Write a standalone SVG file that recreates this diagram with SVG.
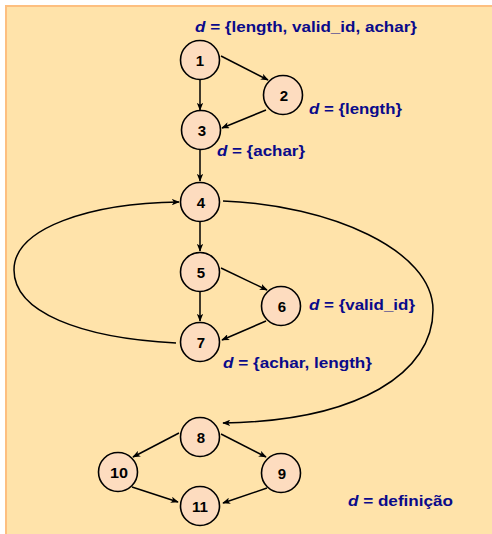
<svg xmlns="http://www.w3.org/2000/svg" width="492" height="534" viewBox="0 0 492 534">
<defs>
<style>
.n circle{fill:#FDDCBF;stroke:#000;stroke-width:1.6}
.n text{font-family:"Liberation Sans",Arial,sans-serif;font-weight:bold;font-size:15px;fill:#000;text-anchor:middle}
.e path{fill:none;stroke:#000;stroke-width:1.5;marker-end:url(#ah)}
.lbl{font-family:"Liberation Sans",Arial,sans-serif;font-weight:bold;font-size:15.5px;fill:#0A0A8A}
.lbl .d{font-style:italic}
</style>
<marker id="ah" viewBox="0 0 10 8" refX="9" refY="4" markerWidth="8" markerHeight="6.4" orient="auto" markerUnits="userSpaceOnUse">
<path d="M0,0 L10,4 L0,8 L2.5,4 z" fill="#000"/>
</marker>
</defs>
<rect x="0" y="0" width="492" height="534" fill="#FFFFFF"/>
<rect x="5" y="5" width="487" height="529" fill="#FDBF80"/>
<rect x="7" y="7" width="485" height="527" fill="#FFE3AA"/>

<g id="connectors" class="e">
<path d="M200,80 L200,110"/>
<path d="M221,56 L268,80"/>
<path d="M266,110 L222,128"/>
<path d="M200,150 L200,181"/>
<path d="M200,222 L200,251"/>
<path d="M221,268 L267,290"/>
<path d="M266,321 L222,340"/>
<path d="M200,292 L200,321"/>
<path d="M176,343 C 80,338 14,312 14,270 C 14,228 90,203 179,202"/>
<path d="M223,201 C 330,205 433,250 433,310 C 433,372 360,421 223,423"/>
<path d="M179,433 L133,457"/>
<path d="M221,434 L266,457"/>
<path d="M132,487 L178,502"/>
<path d="M267,488 L223,503"/>
</g>

<g id="n1" class="n"><circle cx="200" cy="60" r="19.5"/><text x="200" y="66">1</text></g>
<g id="n2" class="n"><circle cx="283" cy="95" r="19.5"/><text x="284" y="101">2</text></g>
<g id="n3" class="n"><circle cx="201" cy="130" r="19.5"/><text x="202" y="136">3</text></g>
<g id="n4" class="n"><circle cx="200" cy="202" r="19.5"/><text x="201" y="208">4</text></g>
<g id="n5" class="n"><circle cx="200" cy="272" r="19.5"/><text x="201" y="278">5</text></g>
<g id="n6" class="n"><circle cx="281" cy="306" r="19.5"/><text x="282" y="312">6</text></g>
<g id="n7" class="n"><circle cx="200" cy="342" r="19.5"/><text x="201" y="348">7</text></g>
<g id="n8" class="n"><circle cx="200" cy="437" r="19.5"/><text x="201" y="443">8</text></g>
<g id="n9" class="n"><circle cx="281" cy="473" r="19.5"/><text x="282" y="479">9</text></g>
<g id="n10" class="n"><circle cx="118" cy="472" r="19.5"/><text x="119" y="478" textLength="18" lengthAdjust="spacingAndGlyphs">10</text></g>
<g id="n11" class="n"><circle cx="200" cy="506" r="19.5"/><text x="200" y="512" textLength="16" lengthAdjust="spacingAndGlyphs">11</text></g>

<g id="labels">
<text class="lbl" x="195" y="32" textLength="222" lengthAdjust="spacingAndGlyphs"><tspan class="d">d</tspan> = {length, valid_id, achar}</text>
<text class="lbl" x="309" y="114" textLength="93" lengthAdjust="spacingAndGlyphs"><tspan class="d">d</tspan> = {length}</text>
<text class="lbl" x="217" y="156" textLength="88" lengthAdjust="spacingAndGlyphs"><tspan class="d">d</tspan> = {achar}</text>
<text class="lbl" x="309" y="310" textLength="106" lengthAdjust="spacingAndGlyphs"><tspan class="d">d</tspan> = {valid_id}</text>
<text class="lbl" x="223" y="368" textLength="149" lengthAdjust="spacingAndGlyphs"><tspan class="d">d</tspan> = {achar, length}</text>
<text class="lbl" x="348" y="506" textLength="105" lengthAdjust="spacingAndGlyphs"><tspan class="d">d</tspan> = definição</text>
</g>
</svg>
